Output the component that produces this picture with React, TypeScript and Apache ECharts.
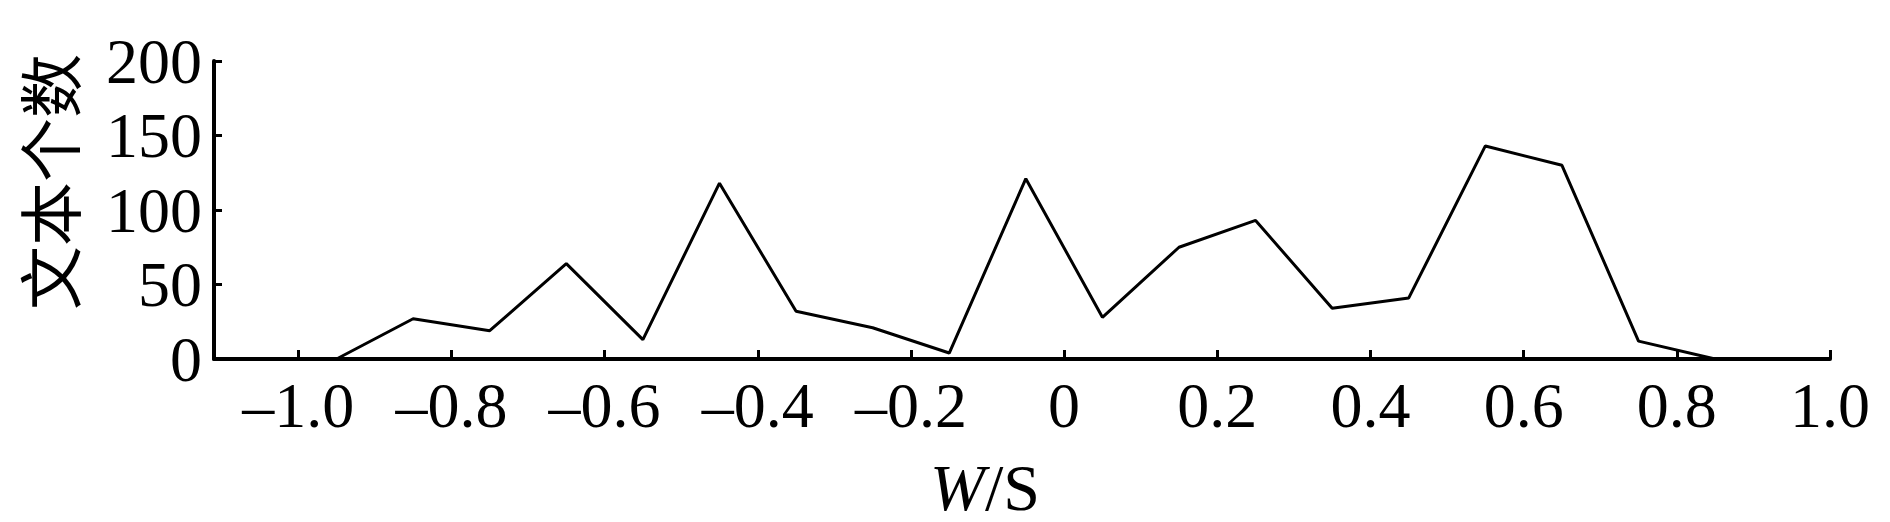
import React, { useEffect, useRef } from "react";
import * as echarts from "echarts";

const binCenters = [-0.95, -0.85, -0.75, -0.65, -0.55, -0.45, -0.35, -0.25, -0.15, -0.05, 0.05, 0.15, 0.25, 0.35, 0.45, 0.55, 0.65, 0.75, 0.85];
const textCounts = [0, 27, 19, 64, 13, 118, 32, 21, 4, 121, 28, 75, 93, 34, 41, 143, 130, 12, 0];
const xTicks = [-1.0, -0.8, -0.6, -0.4, -0.2, 0, 0.2, 0.4, 0.6, 0.8, 1.0];
const yTicks = [0, 50, 100, 150, 200];
const xName = "{i|W}/S";
const yName = "文本个数";

const SERIF = "'Liberation Serif', 'Times New Roman', serif";
const CJK = "'Noto Sans CJK SC', sans-serif";

export default function App() {
  const ref = useRef<HTMLDivElement>(null);
  useEffect(() => {
    if (!ref.current) return;
    const chart = echarts.init(ref.current, undefined, { renderer: "svg" });
    const fmtX = (v: number) => {
      const r = Math.round(v * 10) / 10;
      if (r === 0) return "0";
      return r < 0 ? "\u2013" + Math.abs(r).toFixed(1) : r.toFixed(1);
    };
    chart.setOption({
      animation: false,
      backgroundColor: "#ffffff",
      grid: { left: 214, right: 60, top: 61, bottom: 163, containLabel: false },
      xAxis: {
        type: "value",
        min: -1.11,
        max: 1.0,
        axisLine: { show: true, onZero: false, lineStyle: { color: "#000", width: 4 } },
        axisTick: { show: true, inside: true, length: 9, lineStyle: { color: "#000", width: 3 }, customValues: xTicks },
        axisLabel: { show: true, color: "#000", fontFamily: SERIF, fontSize: 64, margin: 14, formatter: fmtX, customValues: xTicks },
        splitLine: { show: false },
      },
      yAxis: {
        type: "value",
        min: yTicks[0],
        max: yTicks[yTicks.length - 1],
        interval: 50,
        axisLine: { show: true, onZero: false, lineStyle: { color: "#000", width: 4 } },
        axisTick: { show: true, inside: true, length: 8, lineStyle: { color: "#000", width: 3 } },
        axisLabel: { show: true, color: "#000", fontFamily: SERIF, fontSize: 64, margin: 12 },
        splitLine: { show: false },
      },
      series: [
        {
          type: "line",
          data: binCenters.map((x, i) => [x, textCounts[i]]),
          showSymbol: false,
          lineStyle: { color: "#000", width: 3 },
          itemStyle: { color: "#000" },
        },
      ],
      graphic: [
        {
          type: "text",
          x: 47,
          y: 182,
          rotation: Math.PI / 2,
          style: {
            text: yName,
            fontFamily: CJK,
            fontSize: 64,
            fill: "#000",
            textAlign: "center",
            textVerticalAlign: "middle",
          },
        },
        {
          type: "text",
          x: 985,
          y: 487,
          style: {
            text: xName,
            fontFamily: SERIF,
            fontSize: 66,
            fill: "#000",
            textAlign: "center",
            textVerticalAlign: "middle",
            rich: {
              i: { fontStyle: "italic", fontFamily: SERIF, fontSize: 66, fill: "#000" },
            },
          },
        },
      ],
    });
    return () => chart.dispose();
  }, []);
  return <div ref={ref} style={{ position: "fixed", left: 0, top: 0, width: 1890, height: 522 }} />;
}
